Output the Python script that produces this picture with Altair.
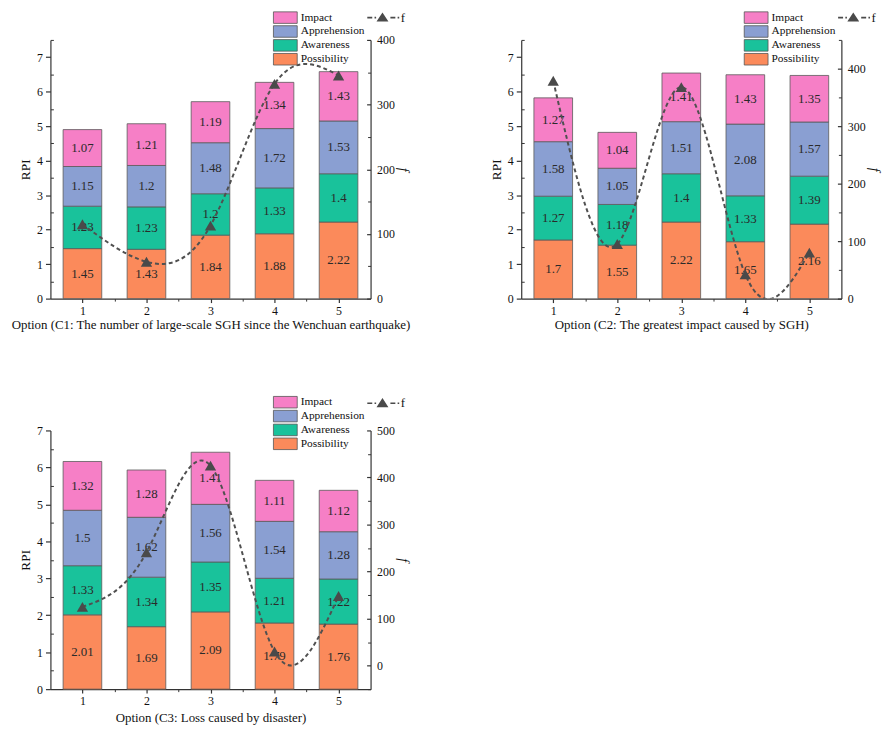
import altair as alt
import pandas as pd

# ---------------- data ----------------
options = [1, 2, 3, 4, 5]
factors = ["Possibility", "Awareness", "Apprehension", "Impact"]
legend_order = ["Impact", "Apprehension", "Awareness", "Possibility"]
factor_colors = ["#F67FC6", "#8A9FD2", "#19C29B", "#FB8A5B"]

c1_possibility = [1.45, 1.43, 1.84, 1.88, 2.22]
c1_awareness = [1.23, 1.23, 1.2, 1.33, 1.4]
c1_apprehension = [1.15, 1.2, 1.48, 1.72, 1.53]
c1_impact = [1.07, 1.21, 1.19, 1.34, 1.43]
c1_f = [115, 57, 113, 332, 345]

c2_possibility = [1.7, 1.55, 2.22, 1.65, 2.16]
c2_awareness = [1.27, 1.18, 1.4, 1.33, 1.39]
c2_apprehension = [1.58, 1.05, 1.51, 2.08, 1.57]
c2_impact = [1.27, 1.04, 1.41, 1.43, 1.35]
c2_f = [379, 95, 368, 42, 80]

c3_possibility = [2.01, 1.69, 2.09, 1.79, 1.76]
c3_awareness = [1.33, 1.34, 1.35, 1.21, 1.22]
c3_apprehension = [1.5, 1.62, 1.56, 1.54, 1.28]
c3_impact = [1.32, 1.28, 1.41, 1.11, 1.12]
c3_f = [125, 241, 425, 30, 148]

titles = [
    "Option (C1: The number of large-scale SGH since the Wenchuan earthquake)",
    "Option (C2: The greatest impact caused by SGH)",
    "Option (C3: Loss caused by disaster)",
]

# ---------------- styles ----------------
SERIF = "Liberation Serif"
W, H = 323, 261
BOX_PATH = "M-2,-0.97H2V0.97H-2Z"
F_PATH = ("M-3.06,-0.16H-2.06V0.16H-3.06Z"
          "M-1.6,-0.16H-1.28V0.16H-1.6Z"
          "M-1.2,0.8L0,-1.05L1.2,0.8Z"
          "M1.6,-0.16H2.6V0.16H1.6Z"
          "M3.06,-0.16H3.38V0.16H3.06Z")


def build_table(values):
    rows = []
    for i, o in enumerate(options):
        cum = 0.0
        for fac, vals in zip(factors, values):
            v = vals[i]
            rows.append(dict(opt=o, factor=fac, start=cum, end=cum + v,
                             mid=cum + v / 2, label=f"{v:g}"))
            cum += v
    return pd.DataFrame(rows)


def panel(values, fvals, title, ymax, fdom, fmajor, fminor, xtp, leg_y, fleg_y):
    df = build_table(values)
    fdf = pd.DataFrame({"opt": options, "f": fvals})

    xs = alt.Scale(domain=[0.5, 5.5], nice=False, zero=False, padding=0)
    ys = alt.Scale(domain=[0, ymax], nice=False, padding=0)
    fs = alt.Scale(domain=fdom, nice=False, zero=False, padding=0)

    ymajor = list(range(0, int(ymax) + 1))
    yminor = [k + 0.5 for k in range(0, int(ymax + 0.5))]

    x_major = alt.Axis(orient="bottom", values=options, tickSize=4, labelPadding=3,
                       labelFontSize=12, format="d", labelAngle=0, title=title,
                       titleFontSize=13, titlePadding=xtp, domainWidth=1.2, tickWidth=1.2)
    x_minor = alt.Axis(orient="bottom", values=[1.5, 2.5, 3.5, 4.5], tickSize=2.5,
                       labels=False, domain=False, title=None, tickWidth=1)
    y_major = alt.Axis(orient="left", values=ymajor, tickSize=5, labelPadding=3,
                       labelFontSize=12, title="RPI", titleFontSize=13.5, titlePadding=4,
                       domainWidth=1.2, tickWidth=1.2)
    y_minor = alt.Axis(orient="left", values=yminor, tickSize={"expr": "-3"},
                       labels=False, domain=False, title=None, tickWidth=1)
    r_major = alt.Axis(orient="right", values=fmajor, tickSize={"expr": "-4"},
                       labelPadding=10, labelFontSize=12, title="f", titleFontStyle="italic",
                       titleFontSize=14, titlePadding=1, titleAngle=90,
                       domainWidth=1.2, tickWidth=1.2)
    r_minor = alt.Axis(orient="right", values=fminor, tickSize={"expr": "-3"},
                       labels=False, domain=False, title=None, tickWidth=1)

    color_legend = alt.Legend(title=None, orient="none", legendX=230.5, legendY=leg_y,
                              symbolType=BOX_PATH, symbolSize=144,
                              symbolStrokeColor="#555", symbolStrokeWidth=0.8,
                              labelFont=SERIF, labelFontSize=11.5, labelColor="#111",
                              labelOffset=9, rowPadding=-2.6, padding=0)
    f_legend = alt.Legend(title=None, orient="none", legendX=328.5, legendY=fleg_y,
                          symbolSize=100,
                          labelFont=SERIF, labelFontSize=13, labelColor="#111",
                          labelOffset=12, padding=0)

    bars = alt.Chart(df).mark_bar(size=39, stroke="#5a5a5a", strokeWidth=0.8).encode(
        x=alt.X("opt:Q", scale=xs, axis=x_major),
        y=alt.Y("start:Q", scale=ys, axis=y_major),
        y2="end:Q",
        color=alt.Color("factor:N", scale=alt.Scale(domain=legend_order, range=factor_colors),
                        legend=color_legend),
    )
    labels = alt.Chart(df).mark_text(font=SERIF, fontSize=13, color="#2a2a2a").encode(
        x=alt.X("opt:Q", scale=xs, axis=x_minor),
        y=alt.Y("mid:Q", scale=ys, axis=y_minor),
        text="label:N",
    )
    line = alt.Chart(fdf).mark_line(interpolate="natural", strokeDash=[4, 3], color="#505050",
                                    strokeWidth=2, clip=True).encode(
        x=alt.X("opt:Q", scale=xs, axis=None),
        y=alt.Y("f:Q", scale=fs, axis=r_major),
    )
    pts = alt.Chart(fdf).mark_point(shape="triangle-up", filled=True, size=130,
                                    color="#4a4a4a", opacity=1).encode(
        x=alt.X("opt:Q", scale=xs, axis=None),
        y=alt.Y("f:Q", scale=fs, axis=r_minor),
    )
    fkey = alt.Chart(fdf).transform_filter("false").transform_calculate(
        series="'f'").mark_point(filled=True, color="#4a4a4a", opacity=1).encode(
        x=alt.X("opt:Q", scale=xs, axis=None),
        y=alt.Y("f:Q", scale=fs, axis=None),
        shape=alt.Shape("series:N", scale=alt.Scale(domain=["f"], range=[F_PATH]),
                        legend=f_legend),
    )
    left = alt.layer(bars, labels).resolve_axis(x="independent", y="independent")
    right = alt.layer(line, pts, fkey).resolve_axis(x="independent", y="independent")
    return alt.layer(left, right).resolve_scale(y="independent").properties(width=W, height=H)


p1 = panel([c1_possibility, c1_awareness, c1_apprehension, c1_impact], c1_f, titles[0],
           7.5, [0, 400], [0, 100, 200, 300, 400], [50, 150, 250, 350], 2.5, -29, -29)
p2 = panel([c2_possibility, c2_awareness, c2_apprehension, c2_impact], c2_f, titles[1],
           7.5, [0, 450], [0, 100, 200, 300, 400], [50, 150, 250, 350, 450], 2.5, -29, -29)
p3 = panel([c3_possibility, c3_awareness, c3_apprehension, c3_impact], c3_f, titles[2],
           7, [-50, 500], [0, 100, 200, 300, 400, 500], [-50, 50, 150, 250, 350, 450], 5, -35, -34)

chart = alt.concat(p1, p2, p3, columns=2, bounds="flush",
                   spacing=alt.RowColnumber(row=133, column=152)).resolve_legend(
    color="independent", shape="independent"
).properties(
    padding={"left": 1.8, "top": 0, "right": 4, "bottom": 0}
).configure_view(stroke=None).configure_axis(
    grid=False, labelFont=SERIF, titleFont=SERIF, titleFontWeight="normal",
    labelColor="#111", titleColor="#111", domainColor="#333", tickColor="#333"
)

chart.save("out.html", embed_options={"renderer": "svg", "actions": False})
